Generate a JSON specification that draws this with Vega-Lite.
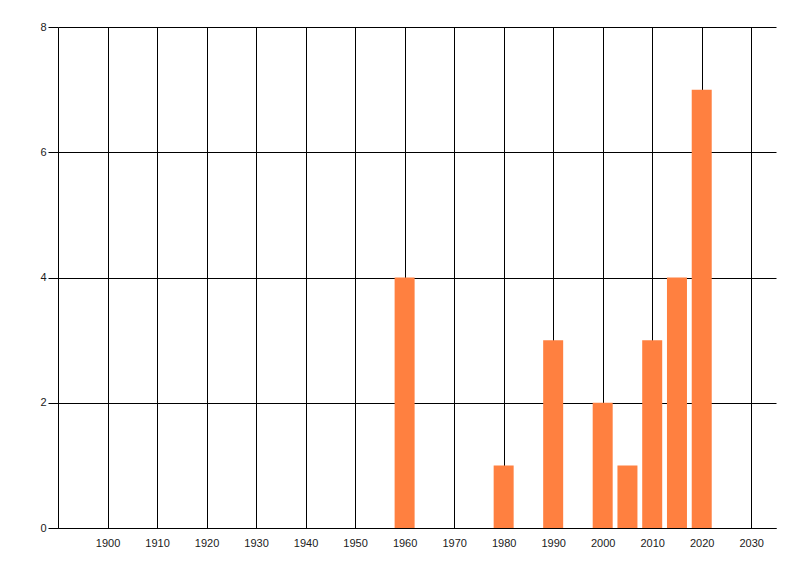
{
  "$schema": "https://vega.github.io/schema/vega-lite/v6.json",
  "autosize": {"type": "none"},
  "padding": {"left": 58, "top": 27, "right": 24, "bottom": 48},
  "width": 718,
  "height": 501,
  "background": "white",
  "config": {"view": {"stroke": null}},
  "data": {"values": [
    {"year": 1960, "count": 4},
    {"year": 1980, "count": 1},
    {"year": 1990, "count": 3},
    {"year": 2000, "count": 2},
    {"year": 2005, "count": 1},
    {"year": 2010, "count": 3},
    {"year": 2015, "count": 4},
    {"year": 2020, "count": 7}
  ]},
  "mark": {"type": "bar", "size": 20, "color": "#FF8040"},
  "encoding": {
    "x": {
      "field": "year", "type": "quantitative",
      "scale": {"domain": [1890, 2035], "nice": false, "zero": false, "padding": 0},
      "axis": {
        "title": null,
        "values": [1900,1910,1920,1930,1940,1950,1960,1970,1980,1990,2000,2010,2020,2030],
        "format": "d",
        "grid": true, "gridColor": "black", "gridOpacity": 1, "gridWidth": 1,
        "domainColor": "black", "domainWidth": 1,
        "ticks": false,
        "labelPadding": 9,
        "labelFont": "Liberation Sans", "labelFontSize": 11, "labelColor": "#1a1a1a",
        "labelFlush": false, "labelOverlap": false
      }
    },
    "y": {
      "field": "count", "type": "quantitative",
      "scale": {"domain": [0, 8], "nice": false, "padding": 0},
      "axis": {
        "title": null,
        "values": [0, 2, 4, 6, 8],
        "grid": true, "gridColor": "black", "gridOpacity": 1, "gridWidth": 1,
        "domainColor": "black", "domainWidth": 1,
        "ticks": true, "tickSize": 10, "tickColor": "black",
        "labelPadding": 2,
        "labelFont": "Liberation Sans", "labelFontSize": 11, "labelColor": "#1a1a1a",
        "labelFlush": false
      }
    }
  }
}
